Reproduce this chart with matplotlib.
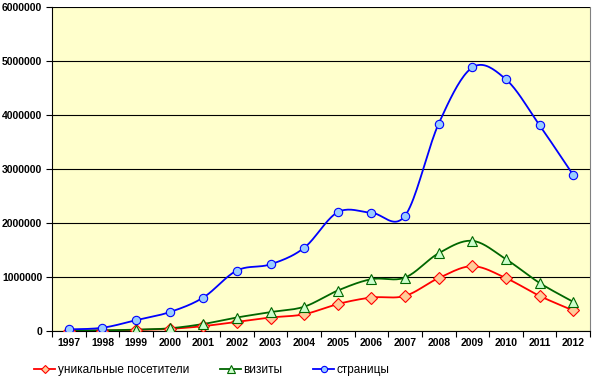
import numpy as np
import matplotlib
matplotlib.use("Agg")
import matplotlib.pyplot as plt
from matplotlib.lines import Line2D

years = ["1997", "1998", "1999", "2000", "2001", "2002", "2003", "2004",
         "2005", "2006", "2007", "2008", "2009", "2010", "2011", "2012"]
unique_visitors = [3000, 8000, 20000, 40000, 90000, 170000, 250000, 310000,
                   500000, 620000, 650000, 980000, 1200000, 980000, 650000, 380000]
visits = [5000, 12000, 25000, 50000, 130000, 250000, 350000, 450000,
          750000, 960000, 990000, 1440000, 1670000, 1330000, 890000, 540000]
pages = [30000, 60000, 200000, 350000, 620000, 1120000, 1235000, 1540000,
         2200000, 2190000, 2135000, 3840000, 4880000, 4660000, 3810000, 2890000]
series_names = ["уникальные посетители", "визиты", "страницы"]
y_ticks = [0, 1000000, 2000000, 3000000, 4000000, 5000000, 6000000]

plt.rcParams['font.family'] = ['Liberation Sans', 'DejaVu Sans']


def smooth(xs, ys, n=20):
    # Excel-style smoothed line: Bezier with Catmull-Rom control points
    xs = np.asarray(xs, float)
    ys = np.asarray(ys, float)
    px, py = [], []
    m = len(xs)
    for i in range(m - 1):
        p0 = (xs[max(i - 1, 0)], ys[max(i - 1, 0)])
        p1 = (xs[i], ys[i])
        p2 = (xs[i + 1], ys[i + 1])
        p3 = (xs[min(i + 2, m - 1)], ys[min(i + 2, m - 1)])
        c1 = (p1[0] + (p2[0] - p0[0]) / 6, p1[1] + (p2[1] - p0[1]) / 6)
        c2 = (p2[0] - (p3[0] - p1[0]) / 6, p2[1] - (p3[1] - p1[1]) / 6)
        t = np.linspace(0, 1, n, endpoint=(i == m - 2))
        b0 = (1 - t) ** 3
        b1 = 3 * (1 - t) ** 2 * t
        b2 = 3 * (1 - t) * t ** 2
        b3 = t ** 3
        px.extend(b0 * p1[0] + b1 * c1[0] + b2 * c2[0] + b3 * p2[0])
        py.extend(b0 * p1[1] + b1 * c1[1] + b2 * c2[1] + b3 * p2[1])
    return np.array(px), np.array(py)


fig = plt.figure(figsize=(6, 3.8), dpi=100)
ax = fig.add_axes([52 / 600, 49 / 380, 538 / 600, 324 / 380])
ax.set_facecolor('#FFFFCC')

x = np.arange(len(years))
styles = [
    (unique_visitors, '#FF0000', 'D', '#FFCC99', 6),
    (visits, '#006600', '^', '#CCFFCC', 7.5),
    (pages, '#0000FF', 'o', '#99CCFF', 6),
]
handles = []
for (vals, col, mk, fc, ms), name in zip(styles, series_names):
    sx, sy = smooth(x, vals)
    ax.plot(sx, sy, color=col, lw=1.3, zorder=3)
    ax.plot(x, vals, ls='none', marker=mk, ms=ms, mfc=fc, mec=col, mew=0.8, zorder=4)
    handles.append(Line2D([0], [0], color=col, lw=1.3, marker=mk, ms=ms - 1.5,
                          mfc=fc, mec=col, mew=0.8))

ax.set_xlim(-0.5, len(years) - 0.5)
ax.set_ylim(0, 6000000)
ax.set_yticks(y_ticks)
ax.set_yticklabels([str(v) for v in y_ticks], fontsize=7.5, fontweight='bold')
ax.yaxis.grid(True, color='#000000', lw=0.8)
ax.set_axisbelow(True)

ax.set_xticks(np.arange(len(years) + 1) - 0.5)
ax.set_xticklabels([])
ax.set_xticks(x, minor=True)
ax.set_xticklabels(years, minor=True, fontsize=7.5, fontweight='bold')
ax.tick_params(axis='x', which='major', length=4, direction='out')
ax.tick_params(axis='x', which='minor', length=0, pad=5)
ax.tick_params(axis='y', length=4, direction='out', pad=3)

ax.spines['top'].set_visible(False)
ax.spines['right'].set_color('#808080')
ax.spines['left'].set_color('#000000')
ax.spines['bottom'].set_color('#000000')

legend_x = [34 / 600, 220 / 600, 313 / 600]
for h, name, lx in zip(handles, series_names, legend_x):
    fig.legend([h], [name], loc='center left', bbox_to_anchor=(lx, 10 / 380),
               frameon=False, fontsize=8.5, handlelength=1.8, handletextpad=0.2,
               borderpad=0, borderaxespad=0)

fig.savefig('out.png', dpi=100, facecolor='white')
